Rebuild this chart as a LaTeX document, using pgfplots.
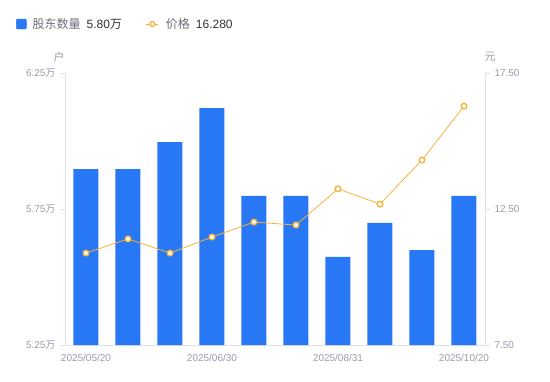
\documentclass[border=0pt]{standalone}
\usepackage{fontspec}
\setmainfont{Liberation Sans}
\newfontfamily\cjk{Noto Sans CJK SC}
\usepackage{pgfplots}
\pgfplotsset{compat=1.18}
\definecolor{barblue}{HTML}{2878F5}
\definecolor{lineorange}{HTML}{F7B23B}
\definecolor{axgray}{HTML}{E2E2E6}
\definecolor{ticktext}{HTML}{9A9BAA}
\definecolor{legtext}{HTML}{6E6E7A}
\definecolor{valtext}{HTML}{333333}
\begin{document}
\begin{tikzpicture}
\useasboundingbox (-65pt,-36pt) rectangle (485pt,345pt);
\begin{axis}[
  anchor=south west, scale only axis,
  width=420pt, height=272pt,
  xmin=-0.5, xmax=9.5, ymin=5.25, ymax=6.25,
  axis x line*=bottom, axis y line*=left,
  axis line style={draw=axgray, line width=0.8pt, -},
  xtick={0,3,6,9},
  xticklabels={2025/05/20,2025/06/30,2025/08/31,2025/10/20},
  x tick style={draw=none},
  ytick={5.25,5.75,6.25},
  yticklabels={5.25{\cjk 万},5.75{\cjk 万},6.25{\cjk 万}},
  y tick style={draw=axgray, line width=0.8pt},
  tick align=outside, major tick length=5pt,
  ticklabel style={font=\fontsize{10}{12}\selectfont, text=ticktext},
  yticklabel style={xshift=-1pt},
  xticklabel style={yshift=-1pt},
  ylabel={\cjk 户},
  ylabel style={at={(axis description cs:-0.014,1.059)}, rotate=-90, anchor=center, font=\fontsize{11}{12}\selectfont, text=ticktext},
  clip=true,
]
\addplot[ybar, bar width=25pt, fill=barblue, draw=none] coordinates {
  (0,5.897) (1,5.897) (2,5.996) (3,6.121) (4,5.798)
  (5,5.798) (6,5.574) (7,5.699) (8,5.599) (9,5.798)
};
\end{axis}
\begin{axis}[
  anchor=south west, scale only axis,
  width=420pt, height=272pt,
  xmin=-0.5, xmax=9.5, ymin=7.5, ymax=17.5,
  hide x axis,
  axis y line*=right,
  axis line style={draw=axgray, line width=0.8pt, -},
  ytick={7.5,12.5,17.5},
  yticklabels={7.50,12.50,17.50},
  y tick style={draw=axgray, line width=0.8pt},
  tick align=outside, major tick length=5pt,
  ticklabel style={font=\fontsize{10}{12}\selectfont, text=ticktext},
  yticklabel style={xshift=1pt},
  ylabel={\cjk 元},
  ylabel style={at={(axis description cs:1.012,1.059)}, rotate=-90, anchor=center, font=\fontsize{11}{12}\selectfont, text=ticktext},
  legend columns=2,
  legend style={at={(axis description cs:-0.1167,1.18)}, anchor=west, draw=none, fill=none,
    font=\fontsize{12}{14}\selectfont, text=legtext,
    inner sep=0pt,
    /tikz/every even column/.append style={column sep=22pt}},
  legend cell align=left,
  clip=false,
]
\addlegendimage{legend image code/.code={\fill[barblue,rounded corners=1pt] (0pt,-5pt) rectangle (10pt,5pt);}}
\addlegendentry{\hspace{4pt}{\cjk 股东数量}\hspace{6pt}\textcolor{valtext}{5.80{\cjk 万}}}
\addlegendimage{legend image code/.code={\draw[lineorange,line width=1pt] (0pt,0pt)--(12pt,0pt); \draw[lineorange,line width=1.3pt,fill=white] (6pt,0pt) circle (2.4pt);}}
\addlegendentry{\hspace{5pt}{\cjk 价格}\hspace{6pt}\textcolor{valtext}{16.280}}
\addplot[lineorange, line width=0.8pt, mark=*, mark size=2.8pt,
  mark options={fill=white, draw=lineorange, line width=1.4pt}] coordinates {
  (0,10.88) (1,11.40) (2,10.88) (3,11.47) (4,12.02)
  (5,11.91) (6,13.24) (7,12.68) (8,14.30) (9,16.28)
};
\end{axis}
\end{tikzpicture}
\end{document}
